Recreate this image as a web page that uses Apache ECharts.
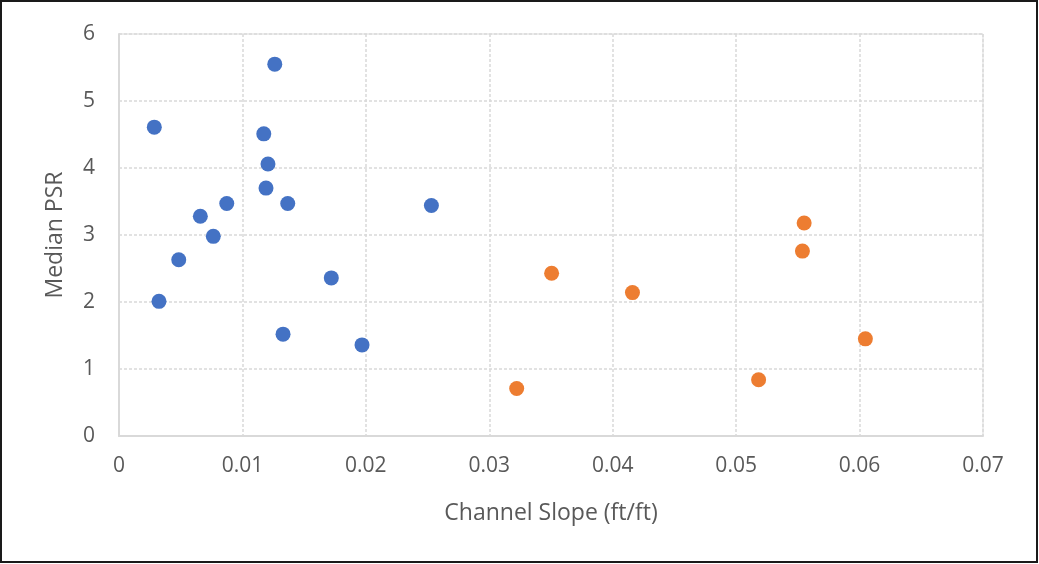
<!DOCTYPE html>
<html>
<head>
<meta charset="utf-8">
<script src="https://cdn.jsdelivr.net/npm/echarts@6/dist/echarts.min.js"></script>
<style>
  html, body { margin: 0; padding: 0; background: #fff; }
  #chart { width: 1039px; height: 564px; }
</style>
</head>
<body>
<div id="chart"></div>
<script>
// Channel slope (ft/ft) and median PSR for the two site groups
const groupASlope = [0.01262, 0.00286, 0.01173, 0.01207, 0.01191, 0.00873, 0.01367, 0.02531,
                     0.00659, 0.00764, 0.00484, 0.00324, 0.01720, 0.01329, 0.01969];
const groupAPSR   = [5.55, 4.61, 4.51, 4.06, 3.70, 3.47, 3.47, 3.44,
                     3.28, 2.98, 2.63, 2.01, 2.36, 1.52, 1.36];

const groupBSlope = [0.03222, 0.03505, 0.04160, 0.05182, 0.05551, 0.05537, 0.06047];
const groupBPSR   = [0.71, 2.43, 2.14, 0.84, 3.18, 2.76, 1.45];

const xTitle = 'Channel Slope (ft/ft)';
const yTitle = 'Median PSR';

const pairs = (xs, ys) => xs.map((x, i) => [x, ys[i]]);

const textColor = '#595959';
const lineColor = '#d9d9d9';
const font = 'Open Sans';

const chart = echarts.init(document.getElementById('chart'), null, { renderer: 'canvas' });
chart.setOption({
  animation: false,
  backgroundColor: '#ffffff',
  grid: {
    left: 119, right: 56, top: 34, bottom: 128,
    show: true, borderColor: lineColor, borderWidth: 1, backgroundColor: 'transparent'
  },
  xAxis: {
    type: 'value',
    min: 0, max: 0.07, interval: 0.01,
    name: xTitle,
    nameLocation: 'middle',
    nameGap: 66,
    nameTextStyle: { color: textColor, fontFamily: font, fontSize: 23 },
    axisLine: { show: true, lineStyle: { color: lineColor, width: 2 } },
    axisTick: { show: false },
    axisLabel: {
      color: textColor, fontFamily: font, fontSize: 21, margin: 20,
      formatter: v => (v === 0 ? '0' : v.toFixed(2))
    },
    splitLine: { show: true, lineStyle: { color: lineColor, type: [3, 2], width: 1.5 } }
  },
  yAxis: {
    type: 'value',
    min: 0, max: 6, interval: 1,
    name: yTitle,
    nameLocation: 'middle',
    nameGap: 52,
    nameTextStyle: { color: textColor, fontFamily: font, fontSize: 23 },
    axisLine: { show: true, lineStyle: { color: lineColor, width: 2 } },
    axisTick: { show: false },
    axisLabel: { color: textColor, fontFamily: font, fontSize: 21, margin: 24 },
    splitLine: { show: true, lineStyle: { color: lineColor, type: [3, 2], width: 1.5 } }
  },
  graphic: [{
    type: 'rect',
    shape: { x: 1, y: 1, width: 1036, height: 561 },
    style: { fill: 'none', stroke: '#1a1a1a', lineWidth: 2 },
    silent: true
  }],
  series: [
    {
      name: 'Group A',
      type: 'scatter',
      symbol: 'circle',
      symbolSize: 15,
      itemStyle: { color: '#4472C4', opacity: 1 },
      data: pairs(groupASlope, groupAPSR)
    },
    {
      name: 'Group B',
      type: 'scatter',
      symbol: 'circle',
      symbolSize: 15,
      itemStyle: { color: '#ED7D31', opacity: 1 },
      data: pairs(groupBSlope, groupBPSR)
    }
  ]
});
</script>
</body>
</html>
